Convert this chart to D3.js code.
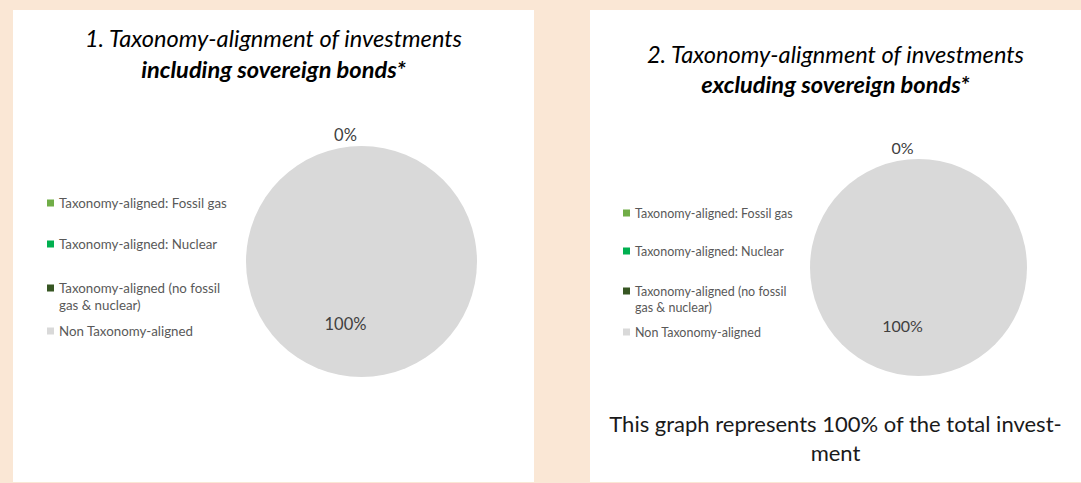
<!DOCTYPE html>
<html>
<head>
<meta charset="utf-8">
<script src="https://cdn.jsdelivr.net/npm/d3@7/dist/d3.min.js"></script>
<style>
  html, body { margin: 0; padding: 0; background: #FAE7D5; }
  svg { display: block; }
</style>
</head>
<body>
<svg id="chart" width="1081" height="483"></svg>
<script>
// ---- Data ----
const categories = [
  "Taxonomy-aligned: Fossil gas",
  "Taxonomy-aligned: Nuclear",
  "Taxonomy-aligned (no fossil gas & nuclear)",
  "Non Taxonomy-aligned"
];
const legendLines = [
  ["Taxonomy-aligned: Fossil gas"],
  ["Taxonomy-aligned: Nuclear"],
  ["Taxonomy-aligned (no fossil", "gas & nuclear)"],
  ["Non Taxonomy-aligned"]
];
const colors = ["#70AD47", "#00B050", "#375623", "#D9D9D9"];
const valuesIncluding = [0, 0, 0, 100];
const valuesExcluding = [0, 0, 0, 100];
const titlesLine1 = ["1. Taxonomy-alignment of investments", "2. Taxonomy-alignment of investments"];
const titlesLine2 = ["including sovereign bonds*", "excluding sovereign bonds*"];
const footnoteLines = ["This graph represents 100% of the total invest-", "ment"];

// ---- Layout ----
const svg = d3.select("#chart");
const FONT = "Lato, 'Open Sans', sans-serif";

const panels = [
  { x: 13, y: 10, w: 521, h: 472, values: valuesIncluding,
    t1y: 47, t2y: 78, cx: 361.5, cy: 261.5, r: 115.5,
    legX: 47, legY: [203, 244, 288, 331], legFs: 13.3, legLH: 17, labelFs: 16.5, footnote: false },
  { x: 590, y: 10, w: 491, h: 472, values: valuesExcluding,
    t1y: 63, t2y: 93, cx: 918.5, cy: 267.5, r: 108.5,
    legX: 623, legY: [213, 251, 291, 332], legFs: 12.5, legLH: 16, labelFs: 16, footnote: true }
];

const color = d3.scaleOrdinal().domain(categories).range(colors);
const fmt = d3.format(".0%");

panels.forEach((p, i) => {
  const g = svg.append("g");
  g.append("rect").attr("x", p.x).attr("y", p.y).attr("width", p.w).attr("height", p.h).attr("fill", "#FFFFFF");

  const tcx = p.x + p.w / 2;
  g.append("text").attr("x", tcx).attr("y", p.t1y).attr("text-anchor", "middle")
    .attr("font-family", FONT).attr("font-style", "italic").attr("font-size", 23.6)
    .attr("fill", "#000").text(titlesLine1[i]);
  g.append("text").attr("x", tcx).attr("y", p.t2y).attr("text-anchor", "middle")
    .attr("font-family", FONT).attr("font-style", "italic").attr("font-weight", "bold").attr("font-size", 23.6)
    .attr("fill", "#000").text(titlesLine2[i]);

  // Pie
  const data = categories.map((c, k) => ({ cat: c, value: p.values[k] }));
  const totals = d3.sum(data, d => d.value);
  const pie = d3.pie().sort(null).value(d => d.value);
  const arcs = pie(data);
  const arc = d3.arc().innerRadius(0).outerRadius(p.r);
  const pg = g.append("g").attr("transform", `translate(${p.cx},${p.cy})`);
  pg.selectAll("path").data(arcs).join("path")
    .attr("d", arc).attr("fill", d => color(d.data.cat));

  // Labels (zero-size slices at the same angle share one label)
  const labelArcs = arcs.filter((d, k) => d.value > 0 || k === 0 || arcs[k - 1].startAngle !== d.startAngle || arcs[k - 1].value > 0);
  const inLabel = d3.arc().innerRadius(p.r * 0.55).outerRadius(p.r * 0.55);
  const outLabel = d3.arc().innerRadius(p.r + 5).outerRadius(p.r + 5);
  pg.selectAll("text.lbl").data(labelArcs).join("text").attr("class", "lbl")
    .attr("x", d => (d.value > 0 ? inLabel.centroid(d)[0] : outLabel.centroid(d)[0]) - 16)
    .attr("y", d => d.value > 0 ? inLabel.centroid(d)[1] + 5 : outLabel.centroid(d)[1])
    .attr("text-anchor", "middle")
    .attr("font-family", FONT).attr("font-size", p.labelFs).attr("fill", "#404040")
    .text(d => fmt(d.value / totals));

  // Legend
  const lg = g.append("g");
  categories.forEach((c, k) => {
    const y = p.legY[k];
    lg.append("rect").attr("x", p.legX).attr("y", y - 3.5).attr("width", 7).attr("height", 7)
      .attr("fill", color(c));
    const t = lg.append("text").attr("x", p.legX + 12).attr("y", y + 4.5)
      .attr("font-family", FONT).attr("font-size", p.legFs).attr("fill", "#595959");
    legendLines[k].forEach((ln, j) => {
      t.append("tspan").attr("x", p.legX + 12).attr("dy", j === 0 ? 0 : p.legLH).text(ln);
    });
  });

  if (p.footnote) {
    footnoteLines.forEach((ln, j) => {
      g.append("text").attr("x", tcx).attr("y", 432 + j * 29).attr("text-anchor", "middle")
        .attr("font-family", FONT).attr("font-size", 22).attr("fill", "#1a1a1a").text(ln);
    });
  }
});
</script>
</body>
</html>
